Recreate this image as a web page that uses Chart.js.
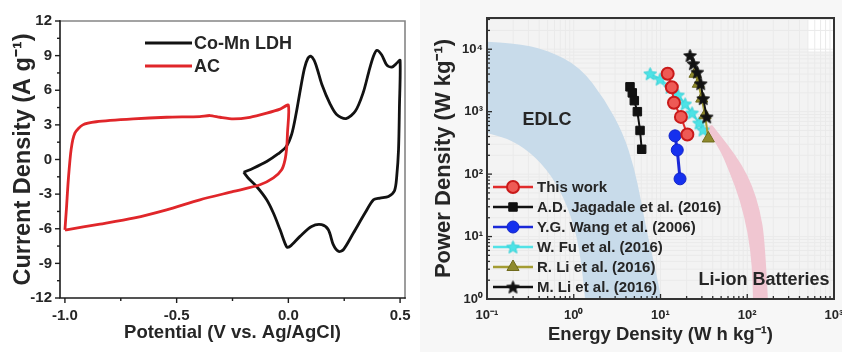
<!DOCTYPE html>
<html>
<head>
<meta charset="utf-8">
<script src="https://cdn.jsdelivr.net/npm/chart.js"></script>
<style>
  html, body { margin: 0; padding: 0; background: #ffffff; width: 842px; height: 352px; overflow: hidden; }
  #cv { position: absolute; left: 0; top: 0; }
  #rg { position: absolute; left: 420px; top: 0; background: #f7f7f7; }
</style>
</head>
<body>
<canvas id="cv" width="420" height="352" style="width:420px;height:352px"></canvas>
<canvas id="rg" width="422" height="352" style="width:422px;height:352px"></canvas>
<script>
// ---------- Cyclic voltammograms ----------
const ldhPotential = [-0.20, -0.157, -0.097, -0.045, -0.01, 0.015, 0.035, 0.055, 0.072, 0.087, 0.10, 0.115, 0.13, 0.15, 0.187, 0.216, 0.258, 0.30, 0.335, 0.36, 0.38, 0.396, 0.418, 0.44, 0.463, 0.488, 0.50, 0.497, 0.493, 0.485, 0.475, 0.448, 0.41, 0.381, 0.343, 0.291, 0.246, 0.224, 0.201, 0.179, 0.149, 0.104, 0.052, 0.007, -0.007, -0.037, -0.067, -0.097, -0.142, -0.179, -0.20];
const ldhCurrent   = [-1.1, -0.75, -0.17, 0.5, 1.1, 2.2, 4.0, 6.2, 7.9, 8.75, 8.95, 8.6, 7.8, 6.5, 4.8, 3.9, 3.55, 4.2, 5.8, 7.6, 8.9, 9.45, 9.05, 8.2, 8.0, 8.4, 8.6, 4.5, 0.84, -1.47, -2.7, -3.2, -3.35, -3.49, -4.64, -6.37, -7.82, -7.96, -7.38, -6.09, -5.65, -5.8, -6.66, -7.53, -7.59, -6.09, -4.64, -3.49, -2.34, -1.62, -1.1];

const acPotential = [-1.0, -0.993, -0.985, -0.972, -0.955, -0.92, -0.86, -0.694, -0.545, -0.396, -0.351, -0.306, -0.246, -0.172, -0.097, -0.037, 0.0, -0.004, -0.007, -0.015, -0.03, -0.067, -0.127, -0.246, -0.396, -0.545, -0.694, -0.843, -0.993, -1.0];
const acCurrent   = [-6.1, -4.2, -1.8, 0.9, 2.3, 3.0, 3.27, 3.52, 3.66, 3.72, 3.81, 3.66, 3.52, 3.66, 4.01, 4.36, 4.7, 2.28, 1.12, -0.03, -0.89, -1.6, -2.19, -2.77, -3.49, -4.36, -5.08, -5.6, -6.09, -6.1];

const potentialTicks = [-1.0, -0.5, 0.0, 0.5];
const potentialMinor = [-0.75, -0.25, 0.25];
const currentTicks = [-12, -9, -6, -3, 0, 3, 6, 9, 12];
const currentMinor = [-10.5, -7.5, -4.5, -1.5, 1.5, 4.5, 7.5, 10.5];

// ---------- Ragone plot ----------
const thisWorkEnergy = [12.1, 13.5, 14.3, 17.2, 20.4];
const thisWorkPower  = [4050, 2460, 1390, 825, 430];
const jagadaleEnergy = [4.45, 4.73, 4.99, 5.41, 5.81, 6.07];
const jagadalePower  = [2500, 2000, 1500, 1000, 500, 250];
const wangEnergy = [14.7, 15.6, 16.8];
const wangPower  = [410, 243, 84];
const fuEnergy = [7.6, 9.9, 12.9, 15.9, 19.2, 23.1, 27.8, 30.9];
const fuPower  = [4050, 3320, 2460, 1850, 1330, 955, 660, 510];
const rliEnergy = [25.0, 27.3, 29.9, 32.6, 35.6];
const rliPower  = [4050, 2800, 1620, 875, 372];
const mliEnergy = [21.9, 23.9, 26.6, 29.1, 31.1, 34.1];
const mliPower  = [7950, 5870, 4290, 2810, 1620, 825];

const energyTicks = [0.1, 1, 10, 100, 1000];
const powerTicks = [1, 10, 100, 1000, 10000];

// EDLC band: outer and inner boundary (energy, power)
const edlcOuterEnergy = [0.1, 0.2, 0.49, 1.18, 2.29, 3.70, 4.95, 5.95, 7.0, 8.6, 10.2];
const edlcOuterPower  = [13150, 12670, 9800, 5220, 1545, 457, 130, 38.6, 11.4, 3.38, 1];
const edlcInnerEnergy = [0.1, 0.194, 0.367, 0.624, 0.93, 1.21, 1.35];
const edlcInnerPower  = [457, 353, 189, 75, 22.2, 5.07, 1];
// Li-ion band: left and right edge (energy, power)
const liionInnerEnergy = [32.6, 46, 63.2, 82.4, 102, 113.5, 116.5];
const liionInnerPower  = [550, 294, 104.5, 38.6, 11.4, 3.38, 1];
const liionOuterEnergy = [39.3, 60, 87, 113.5, 140, 160, 173];
const liionOuterPower  = [614, 294, 140, 67, 26.7, 8.8, 1];

const FAM = '"Liberation Sans", Arial, Helvetica, sans-serif';
const INK = '#262626';

function zip(xs, ys) { return xs.map((v, i) => ({ x: v, y: ys[i] })); }

const SUP = { '-': '\u207B', '0': '\u2070', '1': '\u00B9', '2': '\u00B2', '3': '\u00B3', '4': '\u2074' };
function powLabel(v) {
  const e = Math.round(Math.log10(v));
  return '10' + String(e).split('').map(c => SUP[c]).join('');
}

function starImage(size, fill, stroke) {
  const c = document.createElement('canvas');
  c.width = size; c.height = size;
  const g = c.getContext('2d');
  const r = size / 2 - 0.8, ri = r * 0.45, cx = size / 2, cy = size / 2 + 0.6;
  g.beginPath();
  for (let i = 0; i < 10; i++) {
    const a = -Math.PI / 2 + i * Math.PI / 5;
    const rr = i % 2 ? ri : r;
    g.lineTo(cx + rr * Math.cos(a), cy + rr * Math.sin(a));
  }
  g.closePath();
  g.fillStyle = fill; g.fill();
  g.lineWidth = 1; g.strokeStyle = stroke; g.stroke();
  return c;
}

function marker(ctx, ds, x, y) {
  ctx.save();
  ctx.fillStyle = ds.pointBackgroundColor;
  ctx.strokeStyle = ds.pointBorderColor;
  ctx.lineWidth = ds.pointBorderWidth || 1;
  const st = ds.pointStyle, r = ds.pointRadius;
  if (Chart.helpers && Chart.helpers.drawPoint) {
    Chart.helpers.drawPoint(ctx, { pointStyle: st, radius: r, rotation: 0, borderWidth: ds.pointBorderWidth || 1 }, x, y);
  } else if (typeof st === 'object') {
    ctx.drawImage(st, x - st.width / 2, y - st.height / 2);
  } else {
    ctx.beginPath(); ctx.arc(x, y, r, 0, Math.PI * 2); ctx.fill(); ctx.stroke();
  }
  ctx.restore();
}

function line(ctx, x1, y1, x2, y2) {
  ctx.beginPath(); ctx.moveTo(x1, y1); ctx.lineTo(x2, y2); ctx.stroke();
}

// ---------- Left: CV chart ----------
const cvFrame = {
  id: 'cvFrame',
  afterDraw(chart) {
    const { ctx, chartArea: a, scales: { x, y } } = chart;
    ctx.save();
    ctx.lineCap = 'square';
    ctx.lineWidth = 1.6;
    ctx.strokeStyle = '#858585';
    ctx.beginPath(); ctx.moveTo(a.left, a.top); ctx.lineTo(a.right, a.top); ctx.lineTo(a.right, a.bottom); ctx.stroke();
    ctx.strokeStyle = '#1c1c1c';
    ctx.beginPath(); ctx.moveTo(a.left, a.top); ctx.lineTo(a.left, a.bottom); ctx.lineTo(a.right, a.bottom); ctx.stroke();
    ctx.lineCap = 'butt';
    ctx.lineWidth = 1.4;
    potentialTicks.forEach(v => { const p = x.getPixelForValue(v); line(ctx, p, a.bottom, p, a.bottom + 5); });
    potentialMinor.forEach(v => { const p = x.getPixelForValue(v); line(ctx, p, a.bottom, p, a.bottom + 3); });
    currentTicks.forEach(v => { const p = y.getPixelForValue(v); line(ctx, a.left, p, a.left - 5, p); });
    currentMinor.forEach(v => { const p = y.getPixelForValue(v); line(ctx, a.left, p, a.left - 3, p); });

    // legend
    const rowY = [a.top + 22, a.top + 45];
    const x0 = a.left + 85, x1 = a.left + 132;
    ctx.font = 'bold 18px ' + FAM;
    ctx.textBaseline = 'middle';
    ctx.textAlign = 'left';
    chart.data.datasets.forEach((ds, i) => {
      ctx.strokeStyle = ds.borderColor;
      ctx.lineWidth = ds.borderWidth;
      line(ctx, x0, rowY[i], x1, rowY[i]);
      ctx.fillStyle = INK;
      ctx.fillText(ds.label, x1 + 2, rowY[i] + 1);
    });
    ctx.restore();
  }
};

new Chart(document.getElementById('cv'), {
  type: 'scatter',
  data: {
    datasets: [
      { label: 'Co-Mn LDH', data: zip(ldhPotential, ldhCurrent), showLine: true, borderColor: '#121212', borderWidth: 2.8, pointRadius: 0, tension: 0.3, order: 2 },
      { label: 'AC', data: zip(acPotential, acCurrent), showLine: true, borderColor: '#e0262a', borderWidth: 2.8, pointRadius: 0, tension: 0.25, order: 1 }
    ]
  },
  options: {
    responsive: false,
    animation: false,
    events: [],
    layout: { padding: { left: 0, right: 15, top: 21, bottom: 0 } },
    plugins: { legend: { display: false }, tooltip: { enabled: false } },
    scales: {
      x: {
        type: 'linear', min: -1.022, max: 0.522,
        afterBuildTicks: s => { s.ticks = potentialTicks.map(v => ({ value: v })); },
        afterFit: s => { s.height = 54; s.paddingLeft = 0; s.paddingRight = 0; },
        grid: { display: false, drawTicks: false }, border: { display: false },
        ticks: { callback: v => Number(v).toFixed(1), font: { family: FAM, size: 15, weight: 'bold' }, color: INK, padding: 9, maxRotation: 0, autoSkip: false },
        title: { display: true, text: 'Potential (V vs. Ag/AgCl)', font: { family: FAM, size: 18.5, weight: 'bold' }, color: INK, padding: { top: 0, bottom: 7.5 } }
      },
      y: {
        type: 'linear', min: -12, max: 12,
        afterBuildTicks: s => { s.ticks = currentTicks.map(v => ({ value: v })); },
        afterFit: s => { s.width = 60; s.paddingTop = 0; s.paddingBottom = 0; },
        grid: { display: false, drawTicks: false }, border: { display: false },
        ticks: { callback: v => String(v), font: { family: FAM, size: 15, weight: 'bold' }, color: INK, padding: 8, autoSkip: false },
        title: { display: true, text: 'Current Density (A g\u207B\u00B9)', font: { family: FAM, size: 23.5, weight: 'bold' }, color: INK, padding: { top: 9, bottom: 0 } }
      }
    }
  },
  plugins: [cvFrame]
});

// ---------- Right: Ragone chart ----------
function tracePath(ctx, pts, move) {
  if (move) ctx.moveTo(pts[0][0], pts[0][1]); else ctx.lineTo(pts[0][0], pts[0][1]);
  for (let i = 1; i < pts.length - 1; i++) {
    const mx = (pts[i][0] + pts[i + 1][0]) / 2, my = (pts[i][1] + pts[i + 1][1]) / 2;
    ctx.quadraticCurveTo(pts[i][0], pts[i][1], mx, my);
  }
  const l = pts[pts.length - 1];
  ctx.lineTo(l[0], l[1]);
}

function minorValues(lo, hi) {
  const out = [];
  for (let k = Math.floor(Math.log10(lo)); k <= Math.ceil(Math.log10(hi)); k++) {
    for (let m = 2; m <= 9; m++) { const v = m * Math.pow(10, k); if (v > lo && v < hi) out.push(v); }
  }
  return out;
}

const ragoneBack = {
  id: 'ragoneBack',
  beforeDatasetsDraw(chart) {
    const { ctx, chartArea: a, scales: { x, y } } = chart;
    const px = (e, p) => [x.getPixelForValue(e), y.getPixelForValue(p)];
    ctx.save();
    ctx.beginPath(); ctx.rect(a.left, a.top, a.right - a.left, a.bottom - a.top); ctx.clip();
    ctx.fillStyle = '#f3f3f3';
    ctx.fillRect(a.left, a.top, a.right - a.left, a.bottom - a.top);
    ctx.fillStyle = '#ffffff';
    const w0 = px(500, 9000);
    ctx.fillRect(w0[0], a.top, a.right - w0[0], w0[1] - a.top);
    ctx.strokeStyle = '#eaeaea'; ctx.lineWidth = 1;
    energyTicks.concat(minorValues(0.1, 1000)).forEach(v => { const p = x.getPixelForValue(v); line(ctx, p, a.top, p, a.bottom); });
    powerTicks.concat(minorValues(1, 31623)).forEach(v => { const p = y.getPixelForValue(v); line(ctx, a.left, p, a.right, p); });

    // EDLC band
    const eo = edlcOuterEnergy.map((e, i) => px(e, edlcOuterPower[i]));
    const ei = edlcInnerEnergy.map((e, i) => px(e, edlcInnerPower[i])).reverse();
    ctx.beginPath(); tracePath(ctx, eo, true); tracePath(ctx, ei, false); ctx.closePath();
    ctx.fillStyle = '#c8dbea'; ctx.fill();
    // Li-ion band
    const li = liionInnerEnergy.map((e, i) => px(e, liionInnerPower[i]));
    const lo = liionOuterEnergy.map((e, i) => px(e, liionOuterPower[i])).reverse();
    ctx.beginPath(); tracePath(ctx, li, true); tracePath(ctx, lo, false); ctx.closePath();
    ctx.fillStyle = '#f0c6d1'; ctx.fill();

    ctx.font = 'bold 18px ' + FAM;
    ctx.fillStyle = INK; ctx.textAlign = 'center'; ctx.textBaseline = 'middle';
    const t1 = px(0.49, 740); ctx.fillText('EDLC', t1[0], t1[1]);
    const t2 = px(156, 2.0); ctx.fillText('Li-ion Batteries', t2[0], t2[1]);
    ctx.restore();
  },
  afterDraw(chart) {
    const { ctx, chartArea: a, scales: { x, y } } = chart;
    ctx.save();
    ctx.lineWidth = 1.3; ctx.strokeStyle = '#2a2a2a';
    energyTicks.forEach(v => { const p = x.getPixelForValue(v); line(ctx, p, a.bottom, p, a.bottom - 5); });
    minorValues(0.1, 1000).forEach(v => { const p = x.getPixelForValue(v); line(ctx, p, a.bottom, p, a.bottom - 3); });
    powerTicks.forEach(v => { const p = y.getPixelForValue(v); line(ctx, a.left, p, a.left + 5, p); });
    minorValues(1, 31623).forEach(v => { const p = y.getPixelForValue(v); line(ctx, a.left, p, a.left + 3, p); });
    ctx.lineWidth = 2; ctx.strokeStyle = '#333333';
    ctx.strokeRect(a.left, a.top, a.right - a.left, a.bottom - a.top);

    // legend
    const x0 = a.left + 6, x1 = a.left + 46, xm = (x0 + x1) / 2;
    const y0 = a.top + 169, gap = 20;
    ctx.font = 'bold 15px ' + FAM;
    ctx.textAlign = 'left'; ctx.textBaseline = 'middle';
    chart.data.datasets.forEach((ds, i) => {
      const yy = y0 + i * gap;
      ctx.strokeStyle = ds.borderColor; ctx.lineWidth = 2.6;
      line(ctx, x0, yy, x1, yy);
      marker(ctx, ds, xm, yy);
      ctx.fillStyle = INK;
      ctx.fillText(ds.label, x1 + 4, yy + 1);
    });
    ctx.restore();
  }
};

const blackStar = starImage(15, '#121212', '#121212');
const cyanStar = starImage(15, '#4de3e6', '#33d0d6');

new Chart(document.getElementById('rg'), {
  type: 'scatter',
  data: {
    datasets: [
      { label: 'This work', data: zip(thisWorkEnergy, thisWorkPower), showLine: true, borderColor: '#e02b2b', borderWidth: 2,
        pointStyle: 'circle', pointRadius: 6, pointBackgroundColor: '#ee5a55', pointBorderColor: '#c91a1a', pointBorderWidth: 2, order: 0 },
      { label: 'A.D. Jagadale et al. (2016)', data: zip(jagadaleEnergy, jagadalePower), showLine: true, borderColor: '#111111', borderWidth: 2,
        pointStyle: 'rect', pointRadius: 6, pointBackgroundColor: '#111111', pointBorderColor: '#111111', pointBorderWidth: 1, order: 5 },
      { label: 'Y.G. Wang et al. (2006)', data: zip(wangEnergy, wangPower), showLine: true, borderColor: '#1a28d8', borderWidth: 3,
        pointStyle: 'circle', pointRadius: 6, pointBackgroundColor: '#1530ee', pointBorderColor: '#1224c8', pointBorderWidth: 1, order: 4 },
      { label: 'W. Fu et al. (2016)', data: zip(fuEnergy, fuPower), showLine: true, borderColor: '#52e2e6', borderWidth: 2,
        pointStyle: cyanStar, pointRadius: 7, pointBackgroundColor: '#4de3e6', pointBorderColor: '#33d0d6', pointBorderWidth: 1, order: 3 },
      { label: 'R. Li et al. (2016)', data: zip(rliEnergy, rliPower), showLine: true, borderColor: '#a39c32', borderWidth: 2,
        pointStyle: 'triangle', pointRadius: 7, pointBackgroundColor: '#8f8a2c', pointBorderColor: '#6f6a1c', pointBorderWidth: 1, order: 2 },
      { label: 'M. Li et al. (2016)', data: zip(mliEnergy, mliPower), showLine: true, borderColor: '#111111', borderWidth: 2,
        pointStyle: blackStar, pointRadius: 7, pointBackgroundColor: '#121212', pointBorderColor: '#121212', pointBorderWidth: 1, order: 1 }
    ]
  },
  options: {
    responsive: false,
    animation: false,
    events: [],
    layout: { padding: { left: 0, right: 8, top: 18, bottom: 0 } },
    plugins: { legend: { display: false }, tooltip: { enabled: false } },
    scales: {
      x: {
        type: 'logarithmic', min: 0.1, max: 1000,
        afterBuildTicks: s => { s.ticks = energyTicks.map(v => ({ value: v })); },
        afterFit: s => { s.height = 53; s.paddingLeft = 0; s.paddingRight = 0; },
        grid: { display: false, drawTicks: false }, border: { display: false },
        ticks: { callback: v => powLabel(v), font: { family: FAM, size: 13, weight: 'bold' }, color: INK, padding: 9, maxRotation: 0, autoSkip: false },
        title: { display: true, text: 'Energy Density (W h kg\u207B\u00B9)', font: { family: FAM, size: 18.5, weight: 'bold' }, color: INK, padding: { top: 0, bottom: 6 } }
      },
      y: {
        type: 'logarithmic', min: 1, max: 31623,
        afterBuildTicks: s => { s.ticks = powerTicks.map(v => ({ value: v })); },
        afterFit: s => { s.width = 67; s.paddingTop = 0; s.paddingBottom = 0; },
        grid: { display: false, drawTicks: false }, border: { display: false },
        ticks: { callback: v => powLabel(v), font: { family: FAM, size: 13, weight: 'bold' }, color: INK, padding: 4, autoSkip: false },
        title: { display: true, text: 'Power Density (W kg\u207B\u00B9)', font: { family: FAM, size: 22, weight: 'bold' }, color: INK, padding: { top: 11, bottom: 0 } }
      }
    }
  },
  plugins: [ragoneBack]
});
</script>
</body>
</html>
